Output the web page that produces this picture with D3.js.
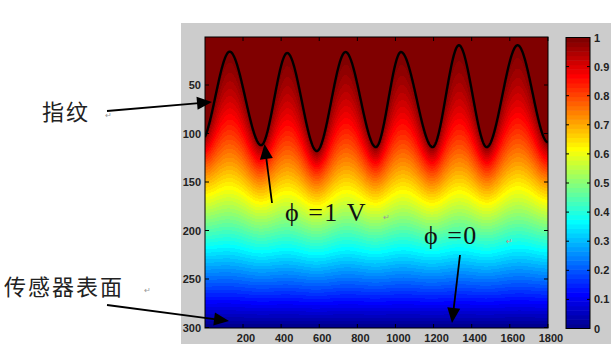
<!DOCTYPE html>
<html>
<head>
<meta charset="utf-8">
<script src="https://cdn.jsdelivr.net/npm/d3@7"></script>
<style>
  html, body { margin: 0; padding: 0; background: #fff; }
  svg { display: block; }
</style>
</head>
<body>
<svg id="fig" width="616" height="349"></svg>
<script>
// Ridge (fingerprint) profile held at φ = 1: alternating valley / peak points (column, row)
const ridgeCols = [-20, 130, 295, 432, 587, 738, 897, 1029, 1195, 1333, 1479, 1641, 1800];
const ridgeRows = [108, 15.6, 112, 17, 118, 16, 114, 16, 114, 9, 114, 9, 109];
// Boundary potentials
const phiRidge = 1;
const phiSurface = 0;
// Grid extent (columns x rows)
const nCols = 1800;
const nRows = 300;
// Tick values
const xTicks = [200, 400, 600, 800, 1000, 1200, 1400, 1600, 1800];
const yTicks = [50, 100, 150, 200, 250, 300];
const cbTicks = [0, 0.1, 0.2, 0.3, 0.4, 0.5, 0.6, 0.7, 0.8, 0.9, 1];
const cbLabels = ["0", "0.1", "0.2", "0.3", "0.4", "0.5", "0.6", "0.7", "0.8", "0.9", "1"];

// ---------- layout ----------
const frame = { x: 181, y: 23, w: 430, h: 321 };
const ax = { l: 205, t: 37, r: 548, b: 328 };
const cb = { l: 566, r: 590, t: 37.5, b: 328.5 };

const svg = d3.select("#fig");

// MATLAB jet colormap with m entries
function jet(m) {
  const n = Math.ceil(m / 4);
  const u = [];
  for (let i = 1; i <= n; i++) u.push(i / n);
  for (let i = 1; i < n; i++) u.push(1);
  for (let i = n; i >= 1; i--) u.push(i / n);
  const g0 = Math.ceil(n / 2) - (m % 4 === 1 ? 1 : 0);
  const cmap = Array.from({ length: m }, () => [0, 0, 0]);
  for (let k = 0; k < u.length; k++) {
    const g = g0 + k + 1, r = g + n, b = g - n;
    if (g >= 1 && g <= m) cmap[g - 1][1] = u[k];
    if (r >= 1 && r <= m) cmap[r - 1][0] = u[k];
    if (b >= 1 && b <= m) cmap[b - 1][2] = u[k];
  }
  return cmap.map(c => d3.rgb(c[0] * 255, c[1] * 255, c[2] * 255));
}
const jetColors = jet(64);
const color = d3.scaleQuantize().domain([phiSurface, phiRidge]).range(jetColors);

const x = d3.scaleLinear().domain([0.5, nCols + 0.5]).range([ax.l, ax.r]);
const y = d3.scaleLinear().domain([0.5, nRows + 0.5]).range([ax.t, ax.b]);

// Smooth ridge between consecutive extrema (zero slope at each extremum)
function ridgeAt(c) {
  let i = d3.bisectRight(ridgeCols, c) - 1;
  i = Math.max(0, Math.min(ridgeCols.length - 2, i));
  const c0 = ridgeCols[i], c1 = ridgeCols[i + 1];
  let t = (c - c0) / (c1 - c0);
  t = Math.max(0, Math.min(1, t));
  const s = t * t * (3 - 2 * t);
  return ridgeRows[i] + (ridgeRows[i + 1] - ridgeRows[i]) * s;
}

// ---------- potential: Laplace solve between ridge (φ=1) and sensor surface (φ=0) ----------
const H = 2;
const NX = Math.round(nCols / H) + 1;
const NY = Math.round(nRows / H) + 1;
const phi = new Float64Array(NX * NY);
const fixed = new Uint8Array(NX * NY);
for (let i = 0; i < NX; i++) {
  const cy = ridgeAt(i * H);
  for (let j = 0; j < NY; j++) {
    const k = j * NX + i, r = j * H;
    if (r <= cy) { phi[k] = phiRidge; fixed[k] = 1; }
    else if (j === NY - 1) { phi[k] = phiSurface; fixed[k] = 1; }
    else phi[k] = phiRidge * (nRows - r) / (nRows - cy);
  }
}
const omega = 1.94;
for (let it = 0; it < 900; it++) {
  for (let j = 1; j < NY - 1; j++) {
    const row = j * NX;
    for (let i = 0; i < NX; i++) {
      const k = row + i;
      if (fixed[k]) continue;
      const l = i > 0 ? phi[k - 1] : phi[k + 1];
      const rr = i < NX - 1 ? phi[k + 1] : phi[k - 1];
      const avg = (l + rr + phi[k - NX] + phi[k + NX]) * 0.25;
      phi[k] += omega * (avg - phi[k]);
    }
  }
}
function phiAt(c, r) {
  if (r <= ridgeAt(c)) return phiRidge;
  const gx = Math.max(0, Math.min(NX - 1.0001, c / H));
  const gy = Math.max(0, Math.min(NY - 1.0001, r / H));
  const i = Math.floor(gx), j = Math.floor(gy);
  const fx = gx - i, fy = gy - j;
  const k = j * NX + i;
  const a = phi[k] * (1 - fx) + phi[k + 1] * fx;
  const b = phi[k + NX] * (1 - fx) + phi[k + NX + 1] * fx;
  return a * (1 - fy) + b * fy;
}

// ---------- figure background ----------
svg.append("rect").attr("x", frame.x).attr("y", frame.y)
  .attr("width", frame.w).attr("height", frame.h).attr("fill", "#cccccc");

// ---------- heat map image ----------
const W = ax.r - ax.l, Hh = ax.b - ax.t;
const canvas = document.createElement("canvas");
canvas.width = W; canvas.height = Hh;
const ctx = canvas.getContext("2d");
const img = ctx.createImageData(W, Hh);
for (let py = 0; py < Hh; py++) {
  const r = y.invert(ax.t + py + 0.5);
  for (let px = 0; px < W; px++) {
    const c = x.invert(ax.l + px + 0.5);
    const col = color(phiAt(c, r));
    const o = (py * W + px) * 4;
    img.data[o] = col.r; img.data[o + 1] = col.g; img.data[o + 2] = col.b; img.data[o + 3] = 255;
  }
}
ctx.putImageData(img, 0, 0);
svg.append("image").attr("x", ax.l).attr("y", ax.t).attr("width", W).attr("height", Hh)
  .attr("preserveAspectRatio", "none").attr("href", canvas.toDataURL());

// ridge contour line
svg.append("clipPath").attr("id", "axclip").append("rect")
  .attr("x", ax.l).attr("y", ax.t).attr("width", W).attr("height", Hh);
const ridgeSamples = d3.range(0, nCols + 1, 2);
svg.append("path")
  .attr("clip-path", "url(#axclip)")
  .attr("d", d3.line().x(c => x(c)).y(c => y(ridgeAt(c))).curve(d3.curveLinear)(ridgeSamples))
  .attr("fill", "none").attr("stroke", "#000").attr("stroke-width", 2.4);

// ---------- axes ----------
const tickFont = "'Liberation Sans', Arial, sans-serif";
const axG = svg.append("g").attr("stroke", "#000").attr("stroke-width", 1);
axG.append("rect").attr("x", ax.l).attr("y", ax.t).attr("width", W).attr("height", Hh)
  .attr("fill", "none");
const tl = 4;
xTicks.forEach(v => {
  axG.append("line").attr("x1", x(v)).attr("x2", x(v)).attr("y1", ax.b).attr("y2", ax.b - tl);
  axG.append("line").attr("x1", x(v)).attr("x2", x(v)).attr("y1", ax.t).attr("y2", ax.t + tl);
});
yTicks.forEach(v => {
  axG.append("line").attr("x1", ax.l).attr("x2", ax.l + tl).attr("y1", y(v)).attr("y2", y(v));
  axG.append("line").attr("x1", ax.r).attr("x2", ax.r - tl).attr("y1", y(v)).attr("y2", y(v));
});
svg.append("g").selectAll("text").data(xTicks).join("text")
  .attr("x", v => x(v) + 3).attr("y", 342)
  .attr("text-anchor", "middle").attr("font-family", tickFont).attr("font-weight", "bold")
  .attr("font-size", 11).attr("fill", "#222").text(v => v);
svg.append("g").selectAll("text").data(yTicks).join("text")
  .attr("x", 201).attr("y", v => y(v) + 4)
  .attr("text-anchor", "end").attr("font-family", tickFont).attr("font-weight", "bold")
  .attr("font-size", 11).attr("fill", "#222").text(v => v);

// ---------- colorbar ----------
const cbY = d3.scaleLinear().domain([phiSurface, phiRidge]).range([cb.b, cb.t]);
const bands = d3.range(jetColors.length);
svg.append("g").selectAll("rect").data(bands).join("rect")
  .attr("x", cb.l).attr("width", cb.r - cb.l)
  .attr("y", i => cbY((i + 1) / jetColors.length))
  .attr("height", i => cbY(i / jetColors.length) - cbY((i + 1) / jetColors.length) + 0.5)
  .attr("fill", i => jetColors[i]);
const cbG = svg.append("g").attr("stroke", "#000").attr("stroke-width", 1);
cbG.append("rect").attr("x", cb.l).attr("y", cb.t).attr("width", cb.r - cb.l)
  .attr("height", cb.b - cb.t).attr("fill", "none");
cbTicks.forEach(v => {
  cbG.append("line").attr("x1", cb.l).attr("x2", cb.l + 3).attr("y1", cbY(v)).attr("y2", cbY(v));
  cbG.append("line").attr("x1", cb.r).attr("x2", cb.r - 3).attr("y1", cbY(v)).attr("y2", cbY(v));
});
svg.append("g").selectAll("text").data(cbTicks).join("text")
  .attr("x", cb.r + 4).attr("y", v => cbY(v) + 4)
  .attr("font-family", tickFont).attr("font-weight", "bold")
  .attr("font-size", 11).attr("fill", "#222").text((v, i) => cbLabels[i]);

// ---------- annotations ----------
function arrow(x1, y1, x2, y2) {
  const len = 15, half = 6.5;
  const dx = x2 - x1, dy = y2 - y1, d = Math.hypot(dx, dy);
  const ux = dx / d, uy = dy / d;
  const bx = x2 - ux * len, by = y2 - uy * len;
  svg.append("line").attr("x1", x1).attr("y1", y1).attr("x2", bx + ux * 2).attr("y2", by + uy * 2)
    .attr("stroke", "#000").attr("stroke-width", 1.8);
  svg.append("path")
    .attr("d", `M${x2},${y2}L${bx - uy * half},${by + ux * half}L${bx + uy * half},${by - ux * half}Z`)
    .attr("fill", "#000");
}
const cjk = "'Noto Sans CJK SC', sans-serif";
const serif = "'Liberation Serif', 'Times New Roman', serif";
svg.append("text").attr("x", 42).attr("y", 120).attr("font-family", cjk)
  .attr("font-size", 22).attr("letter-spacing", 2).attr("fill", "#222").text("指纹");
svg.append("text").attr("x", 4).attr("y", 295).attr("font-family", cjk)
  .attr("font-size", 22).attr("letter-spacing", 2).attr("fill", "#222").text("传感器表面");
svg.append("text").attr("x", 285).attr("y", 221).attr("font-family", serif)
  .attr("font-size", 26).attr("letter-spacing", 1.5).attr("fill", "#111").text("ϕ =1 V");
svg.append("text").attr("x", 424).attr("y", 244).attr("font-family", serif)
  .attr("font-size", 26).attr("letter-spacing", 1.5).attr("fill", "#111").text("ϕ =0");
// paragraph marks
[[105, 118, "#999"], [144, 293, "#999"], [383, 220, "#999"], [506, 244, "#d08a8a"]].forEach(([mx, my, mc]) => {
  svg.append("text").attr("x", mx).attr("y", my).attr("font-family", tickFont)
    .attr("font-size", 8).attr("fill", mc).text("↵");
});

arrow(107, 111, 212, 102);
arrow(107, 305, 229, 321);
arrow(272, 203, 264.5, 144);
arrow(460, 255, 452, 323);
</script>
</body>
</html>
